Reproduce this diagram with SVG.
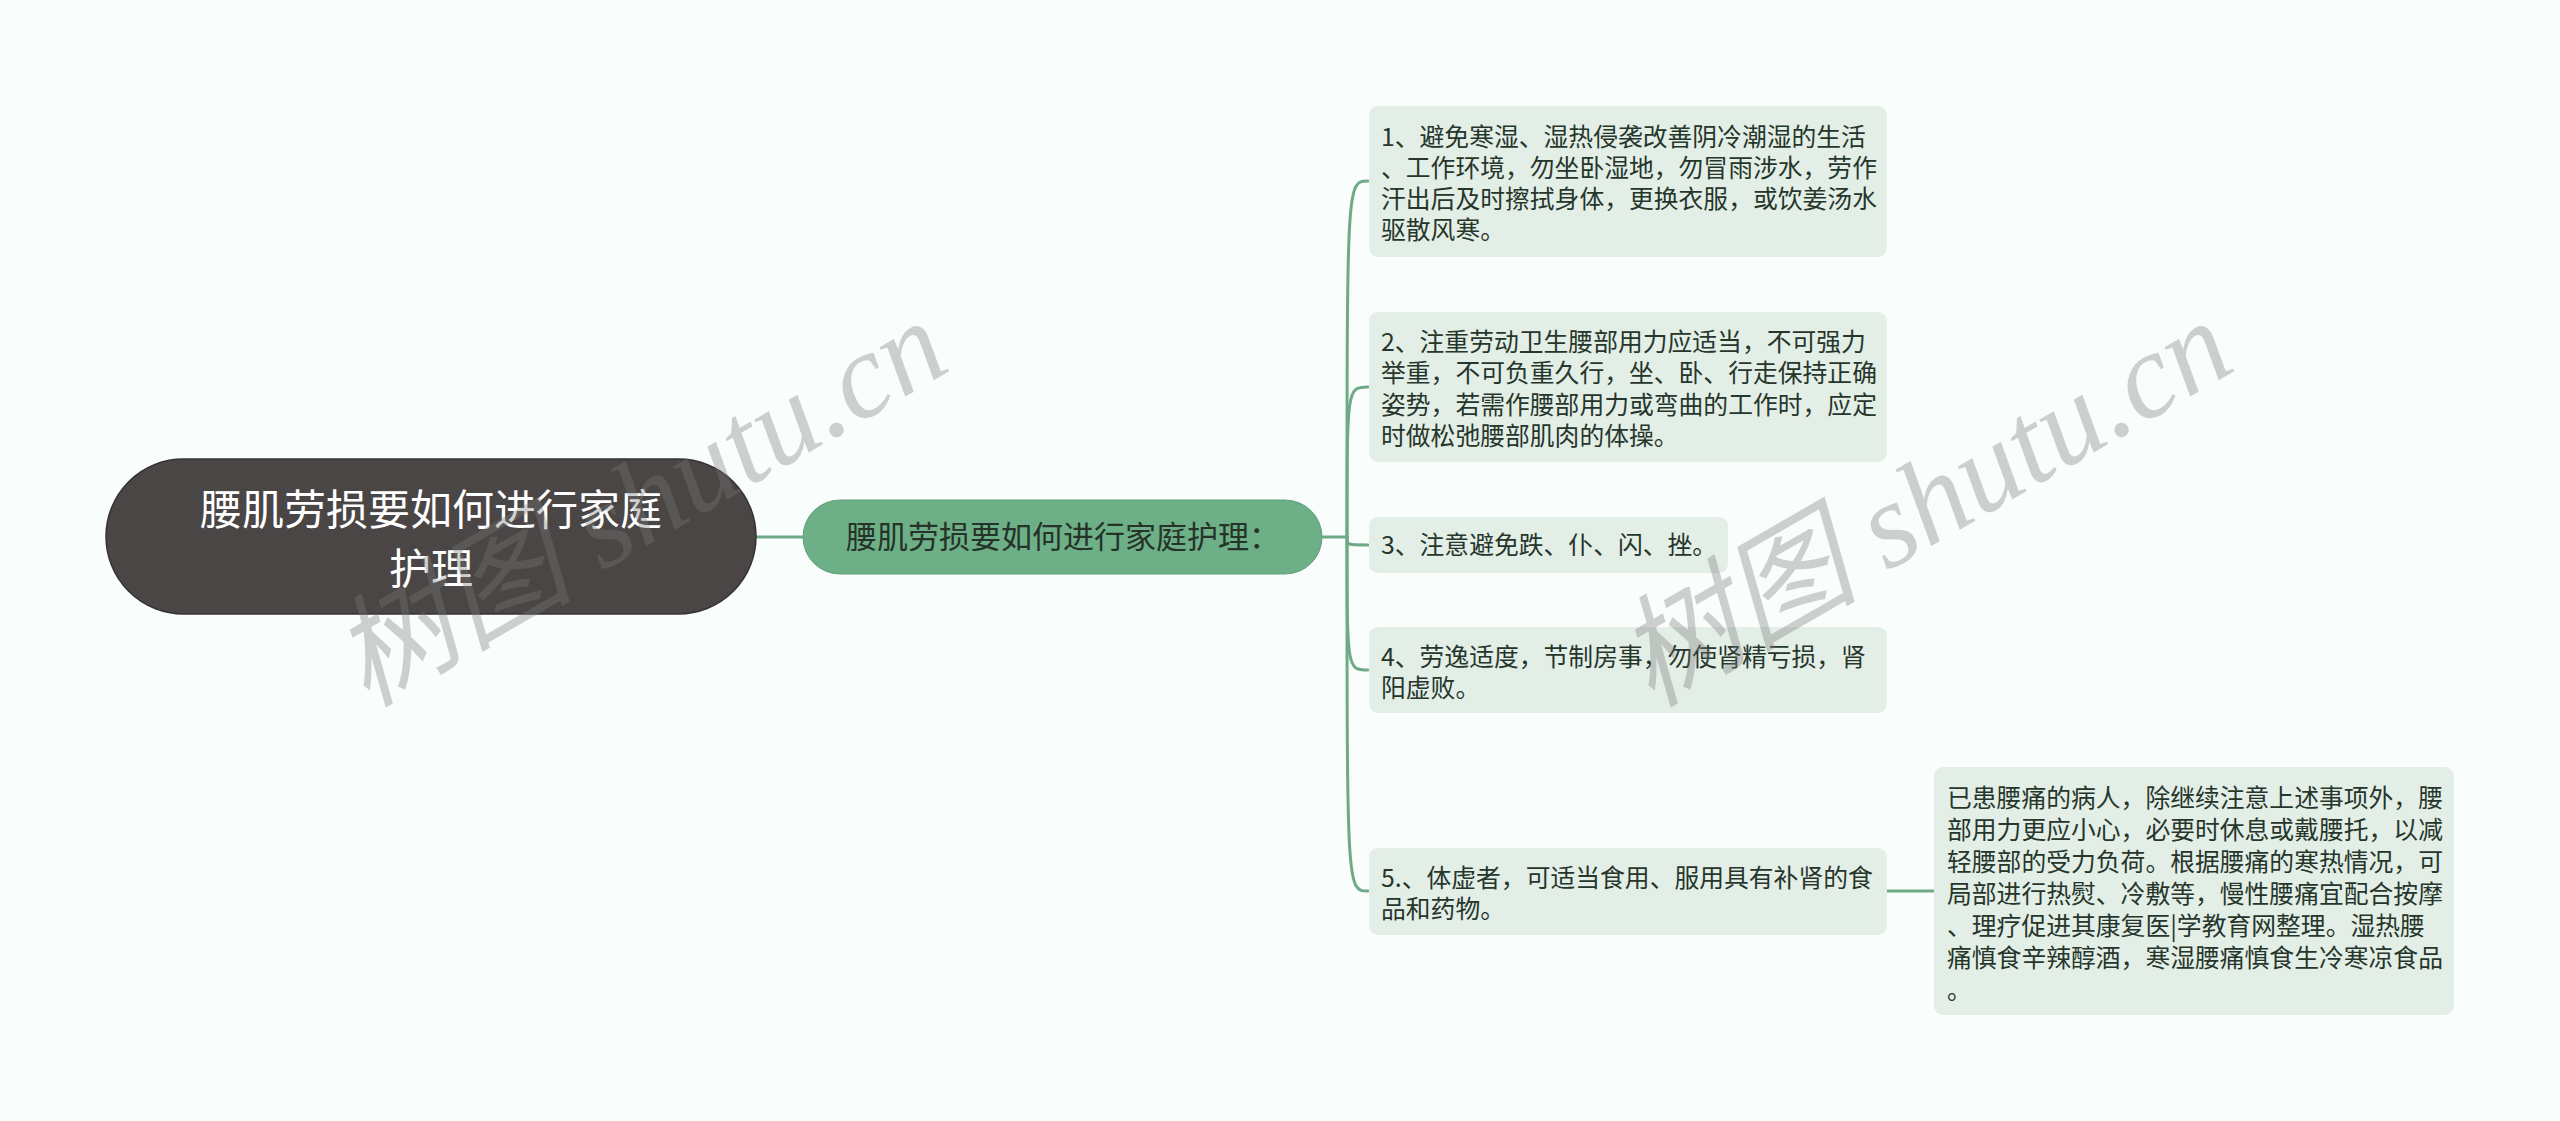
<svg xmlns="http://www.w3.org/2000/svg" width="2560" height="1121" viewBox="0 0 2560 1121">
<style>
.bg{fill:#f9fdfc}
.conn{fill:none;stroke:#6eaa85;stroke-width:3;stroke-linecap:round}
.root{fill:#4b4646;stroke:#363232;stroke-width:1.5}
.main{fill:#6daf86;stroke:#62a07a;stroke-width:1}
.child{fill:#e3eee7}
.t{font-family:"Noto Sans CJK SC","Noto Sans",sans-serif}
.rt{font-size:42px;fill:#ffffff;text-anchor:middle}
.mt{font-size:31px;fill:#263329;text-anchor:middle}
.ct{font-size:24.8px;fill:#26362b}
.wm{font-family:"Liberation Serif","Noto Sans CJK SC",serif;font-style:italic;font-size:121px;fill:#777777;fill-opacity:0.35}
</style>
<rect class="bg" x="0" y="0" width="2560" height="1121"/>

<g id="connectors">
<path class="conn" d="M756 537 L803 537"/>
<path class="conn" d="M1322 537 L1347 537"/>
<path class="conn" d="M1347 537 C1347 181 1347 181 1368 181"/>
<path class="conn" d="M1347 537 C1347 387 1347 387 1368 387"/>
<path class="conn" d="M1347 537 C1347 545 1347 545 1368 545"/>
<path class="conn" d="M1347 537 C1347 670 1347 670 1368 670"/>
<path class="conn" d="M1347 537 C1347 891 1347 891 1368 891"/>
<path class="conn" d="M1887 891 L1934 891"/>
</g>

<g id="root">
<rect class="root" x="106" y="459" width="650" height="155" rx="77.5"/>
<text class="t rt" x="431" y="525">腰肌劳损要如何进行家庭</text>
<text class="t rt" x="431" y="584">护理</text>
</g>

<g id="main">
<rect class="main" x="803" y="500" width="519" height="74" rx="37"/>
<text class="t mt" x="1063" y="548">腰肌劳损要如何进行家庭护理：</text>
</g>

<g id="node1">
<rect class="child" x="1369" y="106" width="518" height="151" rx="9"/>
<text class="t ct" x="1381" y="146">1、避免寒湿、湿热侵袭改善阴冷潮湿的生活</text>
<text class="t ct" x="1381" y="177">、工作环境，勿坐卧湿地，勿冒雨涉水，劳作</text>
<text class="t ct" x="1381" y="208">汗出后及时擦拭身体，更换衣服，或饮姜汤水</text>
<text class="t ct" x="1381" y="239">驱散风寒。</text>
</g>

<g id="node2">
<rect class="child" x="1369" y="312" width="518" height="150" rx="9"/>
<text class="t ct" x="1381" y="351">2、注重劳动卫生腰部用力应适当，不可强力</text>
<text class="t ct" x="1381" y="382">举重，不可负重久行，坐、卧、行走保持正确</text>
<text class="t ct" x="1381" y="414">姿势，若需作腰部用力或弯曲的工作时，应定</text>
<text class="t ct" x="1381" y="445">时做松弛腰部肌肉的体操。</text>
</g>

<g id="node3">
<rect class="child" x="1369" y="517" width="359" height="56" rx="9"/>
<text class="t ct" x="1381" y="554">3、注意避免跌、仆、闪、挫。</text>
</g>

<g id="node4">
<rect class="child" x="1369" y="627" width="518" height="86" rx="9"/>
<text class="t ct" x="1381" y="666">4、劳逸适度，节制房事，勿使肾精亏损，肾</text>
<text class="t ct" x="1381" y="697">阳虚败。</text>
</g>

<g id="node5">
<rect class="child" x="1369" y="848" width="518" height="87" rx="9"/>
<text class="t ct" x="1381" y="887">5.、体虚者，可适当食用、服用具有补肾的食</text>
<text class="t ct" x="1381" y="918">品和药物。</text>
</g>

<g id="detail">
<rect class="child" x="1934" y="767" width="520" height="248" rx="9"/>
<text class="t ct" x="1947" y="807">已患腰痛的病人，除继续注意上述事项外，腰</text>
<text class="t ct" x="1947" y="839">部用力更应小心，必要时休息或戴腰托，以减</text>
<text class="t ct" x="1947" y="871">轻腰部的受力负荷。根据腰痛的寒热情况，可</text>
<text class="t ct" x="1947" y="903">局部进行热熨、冷敷等，慢性腰痛宜配合按摩</text>
<text class="t ct" x="1947" y="935">、理疗促进其康复医|学教育网整理。湿热腰</text>
<text class="t ct" x="1947" y="967">痛慎食辛辣醇酒，寒湿腰痛慎食生冷寒凉食品</text>
<text class="t ct" x="1947" y="999">。</text>
</g>

<g id="watermarks">
<text class="wm" transform="translate(366 708) rotate(-30)">树图 shutu.cn</text>
<text class="wm" transform="translate(1651 708) rotate(-30)">树图 shutu.cn</text>
</g>
</svg>
